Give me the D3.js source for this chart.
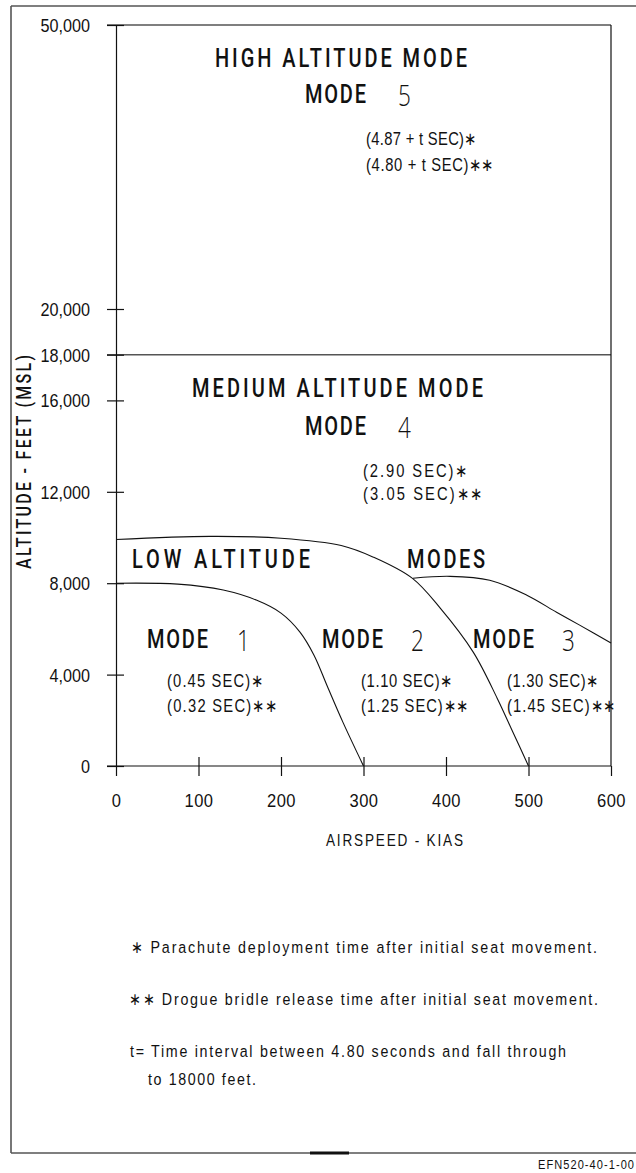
<!DOCTYPE html>
<html>
<head>
<meta charset="utf-8">
<script src="https://cdn.jsdelivr.net/npm/d3@7"></script>
<style>
  html, body { margin: 0; padding: 0; background: #fff; }
  svg { display: block; }
  text { font-family: "Liberation Sans", Arial, sans-serif; fill: #111; }
</style>
</head>
<body>
<svg id="chart" width="636" height="1173"></svg>
<script>
// ---------------- DATA ----------------
const xTicks = [0, 100, 200, 300, 400, 500, 600];
const yTicks = [0, 4000, 8000, 12000, 16000, 18000, 20000, 50000];
const yBreaks = [0, 20000, 50000];        // broken (piecewise) altitude axis
const modeDivide = 18000;                 // medium / high altitude boundary

// Mode 1 / Mode 2 boundary
const boundaryA_kias = [0, 75, 130, 170, 200, 223, 240, 256, 275, 300];
const boundaryA_alt  = [8000, 7960, 7700, 7260, 6690, 5860, 4850, 3500, 1920, 0];
// Mode 2 / Mode 3 boundary (top of low altitude modes)
const boundaryB_kias = [0, 114, 200, 273, 312, 359, 393, 433, 462, 481, 500];
const boundaryB_alt  = [9910, 10050, 9970, 9650, 9140, 8220, 6910, 4985, 2970, 1490, 0];
// Mode 3 upper boundary
const boundaryC_kias = [360, 405, 453, 498, 534, 562, 600];
const boundaryC_alt  = [8220, 8300, 8130, 7475, 6730, 6165, 5380];

const modeNumbers = ["1", "2", "3", "4", "5"];
const chuteTimes  = ["(0.45 SEC)∗", "(1.10 SEC)∗", "(1.30 SEC)∗", "(2.90  SEC)∗", "(4.87 + t SEC)∗"];
const drogueTimes = ["(0.32 SEC)∗∗", "(1.25 SEC)∗∗", "(1.45 SEC)∗∗", "(3.05  SEC)∗∗", "(4.80 + t SEC)∗∗"];
const footnotes = [
  "∗ Parachute deployment time after initial seat movement.",
  "∗∗ Drogue bridle release time after initial seat movement.",
  "t= Time interval between 4.80 seconds and fall through",
  "to 18000 feet."
];

// ---------------- LAYOUT ----------------
const svg = d3.select("#chart");
const x = d3.scaleLinear().domain([0, 600]).range([116, 611]);
const y = d3.scaleLinear().domain(yBreaks).range([766, 309, 25]);

const ink = "#111";
const frame = "#555";
const SX = 0.86;   // horizontal condensing of the drafting font

// outer frame
const g0 = svg.append("g");
g0.append("line").attr("x1", 11).attr("x2", 11).attr("y1", 6).attr("y2", 1153).attr("stroke", frame).attr("stroke-width", 1.6);
g0.append("line").attr("x1", 11).attr("x2", 636).attr("y1", 6).attr("y2", 6).attr("stroke", frame).attr("stroke-width", 1.6);
g0.append("line").attr("x1", 11).attr("x2", 636).attr("y1", 1153).attr("y2", 1153).attr("stroke", frame).attr("stroke-width", 1.6);
g0.append("line").attr("x1", 310).attr("x2", 349).attr("y1", 1153).attr("y2", 1153).attr("stroke", ink).attr("stroke-width", 3);

// plot frame
const gp = svg.append("g");
gp.append("line").attr("x1", x(0) - 9).attr("x2", x(600)).attr("y1", y(50000)).attr("y2", y(50000)).attr("stroke", frame).attr("stroke-width", 1.6);
gp.append("line").attr("x1", x(0) - 9).attr("x2", x(600)).attr("y1", y(modeDivide)).attr("y2", y(modeDivide)).attr("stroke", frame).attr("stroke-width", 1.6);
gp.append("line").attr("x1", x(600)).attr("x2", x(600)).attr("y1", y(50000)).attr("y2", y(0)).attr("stroke", ink).attr("stroke-width", 1.2);

// y axis
const yAxis = d3.axisLeft(y).tickValues(yTicks).tickFormat(d3.format(",")).tickSizeOuter(0).tickSize(9).tickPadding(0);
const gy = svg.append("g").attr("transform", `translate(${x(0)},0)`).call(yAxis);
gy.select(".domain").attr("stroke", ink).attr("stroke-width", 1.2);
gy.selectAll(".tick line").attr("x1", 8).attr("x2", -9).attr("stroke", ink).attr("stroke-width", 1.2);
gy.selectAll(".tick text")
  .attr("x", -26 / 0.9).attr("dy", "0.36em").attr("transform", "scale(0.9,1)")
  .style("font-size", "18px").style("font-family", '"Liberation Sans",Arial,sans-serif')
  .attr("fill", "#222");

// x axis
const xAxis = d3.axisBottom(x).tickValues(xTicks).tickFormat(d3.format("d")).tickSizeOuter(0).tickSize(10).tickPadding(0);
const gx = svg.append("g").attr("transform", `translate(0,${y(0)})`).call(xAxis);
gx.select(".domain").attr("stroke", ink).attr("stroke-width", 1.2).attr("d", `M${x(0) - 9},0H${x(600)}`);
gx.selectAll(".tick line").attr("y1", d => (d === 0 || d === 600) ? 0 : -9).attr("y2", 10).attr("stroke", ink).attr("stroke-width", 1.2);
gx.selectAll(".tick text")
  .attr("y", 41).attr("dy", 0).attr("transform", "scale(0.92,1)")
  .style("font-size", "18px").style("letter-spacing", "0.5px").style("font-family", '"Liberation Sans",Arial,sans-serif')
  .attr("fill", "#222");

// boundary curves
const line = d3.line().x(d => x(d[0])).y(d => y(d[1])).curve(d3.curveCatmullRom.alpha(0.5));
[[boundaryA_kias, boundaryA_alt], [boundaryB_kias, boundaryB_alt], [boundaryC_kias, boundaryC_alt]].forEach(([xs, ys]) => {
  svg.append("path").datum(d3.zip(xs, ys)).attr("d", line)
    .attr("fill", "none").attr("stroke", ink).attr("stroke-width", 1.1);
});

// ---------------- TEXT ----------------
function txt(s, px, py, opts = {}) {
  const sx = opts.sx || SX;
  const t = svg.append("text")
    .attr("transform", `translate(${px},${py}) scale(${sx},1)`)
    .text(s)
    .style("font-size", (opts.size || 17) + "px")
    .style("font-weight", opts.weight || "normal");
  if (opts.family) t.style("font-family", opts.family);
  if (opts.len) t.attr("textLength", opts.len / sx).attr("lengthAdjust", "spacing");
  if (opts.anchor) t.attr("text-anchor", opts.anchor);
  if (opts.fill) t.attr("fill", opts.fill);
  return t;
}
const heavy = { size: 25, weight: 500, family: 'Roboto,"Liberation Sans",sans-serif', sx: 0.8 };

txt("HIGH ALTITUDE MODE", 215, 67, { ...heavy, len: 252 });
txt("MEDIUM ALTITUDE MODE", 192, 397, { ...heavy, len: 291 });
txt("LOW ALTITUDE", 132, 568, { ...heavy, len: 178 });
txt("MODES", 407, 568, { ...heavy, len: 78 });

// mode blocks: [MODE x, number x, baseline, times x, time baseline1, time baseline2, len1, len2]
const modeLayout = [
  [147, 237, 648, 167, 687, 712, 96, 110],
  [322, 411, 648, 361, 687, 712, 91, 107],
  [473, 562, 648, 507, 687, 712, 91, 108],
  [305, 398, 435, 363, 477, 500, 104, 119],
  [305, 398, 103, 366, 145, 171, 110, 127]
];
modeNumbers.forEach((n, i) => {
  const L = modeLayout[i];
  txt("MODE", L[0], L[2], { ...heavy, len: 61 });
  txt(n, L[1], L[2] + 3, { size: 30, weight: 300, sx: 0.75, family: '"Open Sans",Roboto,sans-serif', fill: "#222" });
  txt(chuteTimes[i], L[3], L[4], { size: 18, sx: 0.82, len: L[6], fill: "#222" });
  txt(drogueTimes[i], L[3], L[5], { size: 18, sx: 0.82, len: L[7], fill: "#222" });
});

// axis titles
txt("AIRSPEED - KIAS", 326, 846, { size: 16, sx: 0.85, len: 137, fill: "#222" });
svg.append("text").attr("transform", "translate(31,462) rotate(-90) scale(0.8,1)").attr("text-anchor", "middle")
  .text("ALTITUDE - FEET (MSL)")
  .style("font-size", "20px").style("font-weight", 500).style("font-family", 'Roboto,"Liberation Sans",sans-serif')
  .attr("textLength", 214 / 0.8).attr("lengthAdjust", "spacing");

// footnotes
txt(footnotes[0], 131, 953, { size: 17, sx: 0.84, len: 466, fill: "#222" });
txt(footnotes[1], 129, 1005, { size: 17, sx: 0.84, len: 469, fill: "#222" });
txt(footnotes[2], 130, 1057, { size: 17, sx: 0.84, len: 436, fill: "#222" });
txt(footnotes[3], 148, 1085, { size: 17, sx: 0.84, len: 108, fill: "#222" });

// drawing id
txt("EFN520-40-1-00", 538, 1169, { size: 13, sx: 0.85, len: 96, fill: "#222" });
</script>
</body>
</html>
